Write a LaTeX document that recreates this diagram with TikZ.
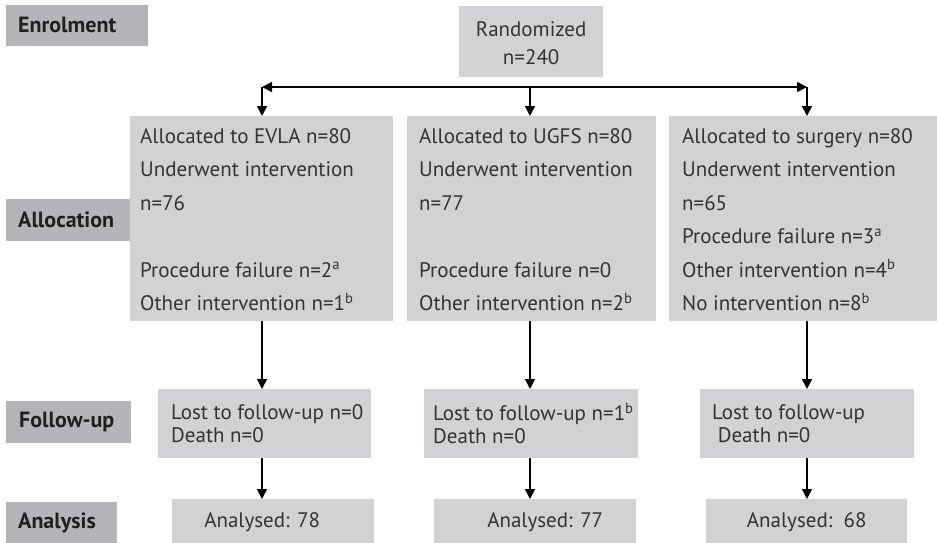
\documentclass[tikz,border=0pt]{standalone}
\usepackage{fontspec}
\setmainfont{PT Sans}
\usetikzlibrary{arrows.meta,calc}
\definecolor{lblgray}{HTML}{B4B5B8}
\definecolor{boxgray}{HTML}{D1D2D4}
\definecolor{txtgray}{HTML}{333335}
\definecolor{lbltxt}{HTML}{231F20}
\begin{document}
\begin{tikzpicture}[x=1pt,y=-1pt,
  lblbox/.style={fill=lblgray,anchor=north west,inner sep=0pt},
  lbltext/.style={anchor=west,font=\fontsize{22}{24}\selectfont\bfseries,text=lbltxt,inner sep=0pt},
  cbox/.style={fill=boxgray,anchor=north west,inner sep=0pt,text=txtgray},
  ctext/.style={text=txtgray,inner sep=0pt,align=left},
  arr/.style={line width=1.6pt,-{Triangle[width=10pt,length=10pt]}},
  arr2/.style={line width=1.6pt,{Triangle[width=10pt,length=10pt]}-{Triangle[width=10pt,length=10pt]}}
]
\useasboundingbox (0,0) rectangle (937,543);
% boxes: style, name, corners
\newcommand\gbox[6]{%
  \node[#1,minimum width=#5-#3 pt,minimum height=#6-#4 pt] (#2) at (#3,#4) {};}
% label boxes
\gbox{lblbox}{enrol}{6}{5}{148}{46}
\gbox{lblbox}{alloclbl}{6}{199}{130}{241}
\gbox{lblbox}{fulbl}{6}{401}{131}{443}
\gbox{lblbox}{anlbl}{6}{502}{117}{543}
\node[lbltext] (enrolt) at ($(enrol.west)+(12,-1)$) {Enrolment};
\node[lbltext] (alloct) at ($(alloclbl.west)+(12,0)$) {Allocation};
\node[lbltext] (fut) at ($(fulbl.west)+(13,0)$) {Follow-up};
\node[lbltext] (ant) at ($(anlbl.west)+(12,0)$) {Analysis};
% content boxes
\gbox{cbox}{rand}{459}{6}{603}{77}
\gbox{cbox}{evla}{130}{116}{393}{321}
\gbox{cbox}{ugfs}{407}{116}{656}{321}
\gbox{cbox}{surg}{669}{116}{937}{321}
\gbox{cbox}{fua}{158}{389}{371}{458}
\gbox{cbox}{fub}{424}{389}{638}{458}
\gbox{cbox}{fuc}{700}{389}{914}{458}
\gbox{cbox}{ana}{172}{499}{374}{543}
\gbox{cbox}{anb}{434}{499}{636}{543}
\gbox{cbox}{anc}{706}{499}{907}{543}
% texts
\node[ctext,align=center,font=\fontsize{21}{28}\selectfont] (randt) at ($(rand.center)+(0,1)$) {Randomized\\n=240};
\node[ctext,anchor=west,font=\fontsize{21}{33.5}\selectfont] (evlat) at ($(evla.west)+(10,1)$)
  {Allocated to EVLA n=80\\Underwent intervention\\n=76\\[33.5pt]Procedure failure n=2\textsuperscript{a}\\Other intervention n=1\textsuperscript{b}};
\node[ctext,anchor=west,font=\fontsize{21}{33.5}\selectfont] (ugfst) at ($(ugfs.west)+(12,1)$)
  {Allocated to UGFS n=80\\Underwent intervention\\n=77\\[33.5pt]Procedure failure n=0\\Other intervention n=2\textsuperscript{b}};
\node[ctext,anchor=west,font=\fontsize{21}{33.5}\selectfont] (surgt) at ($(surg.west)+(13,1)$)
  {Allocated to surgery n=80\\Underwent intervention\\n=65\\Procedure failure n=3\textsuperscript{a}\\Other intervention n=4\textsuperscript{b}\\No intervention n=8\textsuperscript{b}};
\node[ctext,anchor=west,font=\fontsize{21}{23}\selectfont] (fuat) at ($(fua.west)+(13,0)$)
  {Lost to follow-up n=0\\Death n=0};
\node[ctext,anchor=west,font=\fontsize{21}{23}\selectfont] (fubt) at ($(fub.west)+(9,0)$)
  {Lost to follow-up n=1\textsuperscript{b}\\Death n=0};
\node[ctext,anchor=west,font=\fontsize{21}{23}\selectfont] (fuct) at ($(fuc.west)+(12,0)$)
  {Lost to follow-up\\\ Death n=0};
\node[ctext,font=\fontsize{21}{23}\selectfont] (anat) at ($(ana.center)+(-11,1)$) {Analysed: 78};
\node[ctext,font=\fontsize{21}{23}\selectfont] (anbt) at ($(anb.center)+(10,1)$) {Analysed: 77};
\node[ctext,font=\fontsize{21}{23}\selectfont] (anct) at ($(anc.center)+(0,1)$) {Analysed:\ \ 68};
% connectors
\coordinate (hl) at (262,87);
\coordinate (hm) at (530,87);
\coordinate (hr) at (807,87);
\draw[arr2] (hl) -- (hr);
\draw[arr] (hl) -- (hl |- evla.north);
\draw[arr] (hm) -- (hm |- ugfs.north);
\draw[arr] (hr) -- (hr |- surg.north);
\draw[arr] (hl |- evla.south) -- (hl |- fua.north);
\draw[arr] (hm |- ugfs.south) -- (hm |- fub.north);
\draw[arr] (hr |- surg.south) -- (hr |- fuc.north);
\draw[arr] (hl |- fua.south) -- (hl |- ana.north);
\draw[arr] (hm |- fub.south) -- (hm |- anb.north);
\draw[arr] (hr |- fuc.south) -- (hr |- anc.north);
\end{tikzpicture}
\end{document}
